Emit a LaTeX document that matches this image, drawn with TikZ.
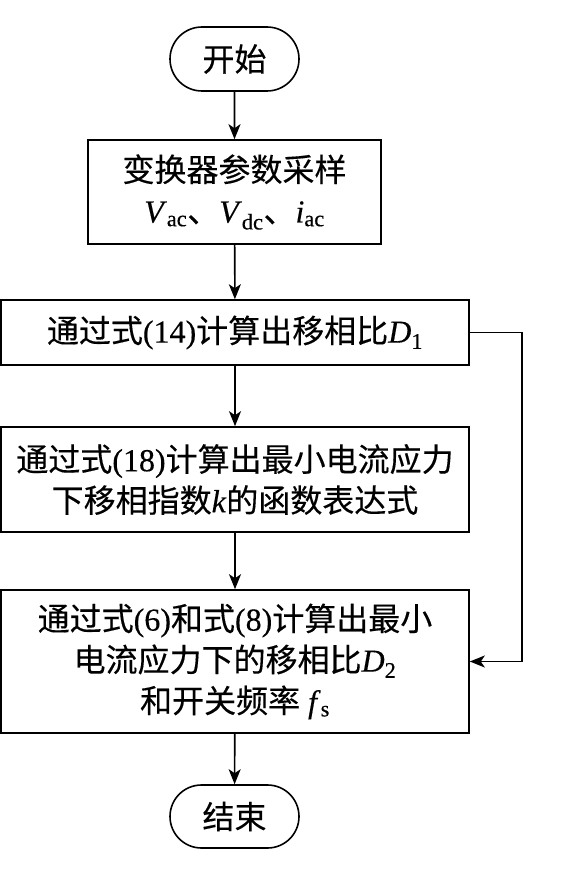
\documentclass[tikz,border=0pt]{standalone}
\usepackage{fontspec}
\setmainfont{Liberation Serif}[FakeBold=0.3]
\newfontfamily\cjk{Noto Sans CJK SC}[FakeBold=0.3]
\usetikzlibrary{shapes.misc,arrows.meta}
\newcommand{\vsub}[2]{\textit{#1}\textsubscript{#2}}
\tikzset{
  base/.style={draw, line width=1.6pt, inner sep=0pt, align=center,
    font=\fontsize{32}{41}\selectfont},
  procbox/.style={base, rectangle},
  termbox/.style={base, rounded rectangle},
  arr/.style={line width=1.6pt, -{Stealth[length=15pt,width=12pt,inset=4pt]}}
}
\begin{document}
\begin{tikzpicture}[x=1pt,y=1pt]
\useasboundingbox (0,0) rectangle (564,-877);
\node[termbox, minimum width=129, minimum height=64] (start) at (234.5,-59) {{\cjk 开始}};
\node[procbox, minimum width=293, minimum height=104] (b1) at (234.5,-192)
  {{\cjk 变换器参数采样}\\\vsub{V}{ac}{\cjk 、}\vsub{V}{dc}{\cjk 、}\vsub{i}{ac}};
\node[procbox, minimum width=468, minimum height=65] (b2) at (235,-332.5)
  {{\cjk 通过式}(14){\cjk 计算出移相比}\vsub{D}{1}};
\node[procbox, minimum width=468, minimum height=105] (b3) at (235,-479.5)
  {{\cjk 通过式}(18){\cjk 计算出最小电流应力}\\{\cjk 下移相指数}\textit{k}{\cjk 的函数表达式}};
\node[procbox, minimum width=468, minimum height=143] (b4) at (235,-661.5)
  {{\cjk 通过式}(6){\cjk 和式}(8){\cjk 计算出最小}\\{\cjk 电流应力下的移相比}\vsub{D}{2}\\{\cjk 和开关频率} \vsub{f}{s}};
\node[termbox, minimum width=129, minimum height=63] (end) at (234.5,-816.5) {{\cjk 结束}};
\draw[arr] (start) -- (b1);
\draw[arr] (b1) -- (b2);
\draw[arr] (b2) -- (b3);
\draw[arr] (b3) -- (b4);
\draw[arr] (b4) -- (end);
\draw[arr] (b2.east) -- ++(52,0) |- (b4.east);
\end{tikzpicture}
\end{document}
